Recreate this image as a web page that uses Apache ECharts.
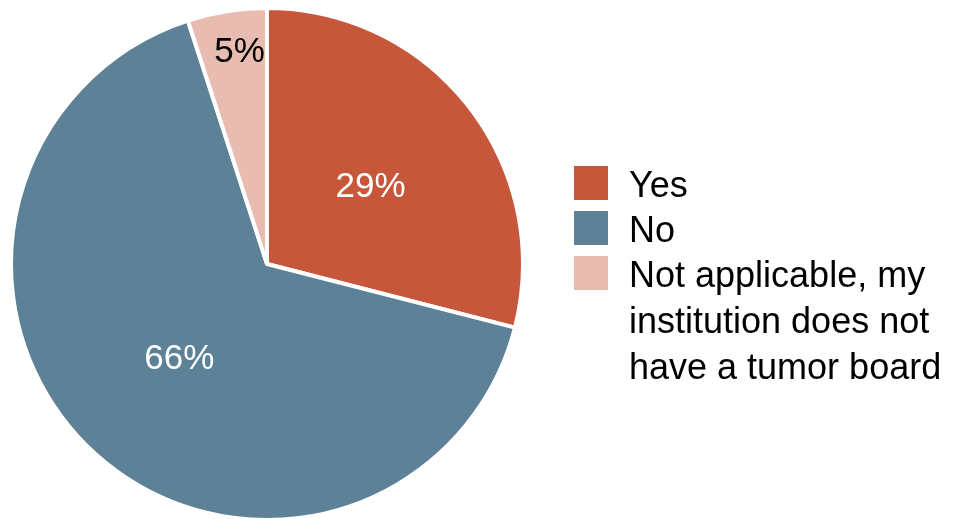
<!DOCTYPE html>
<html>
<head>
<meta charset="utf-8">
<script src="https://cdn.jsdelivr.net/npm/echarts@6/dist/echarts.min.js"></script>
<style>html,body{margin:0;padding:0;background:#fff;}#c{width:954px;height:519px;}</style>
</head>
<body>
<div id="c"></div>
<script>
const categories = ['Yes', 'No', 'Not applicable, my\ninstitution does not\nhave a tumor board'];
const values = [29, 66, 5];
const colors = ['#C7573B', '#5D8196', '#E9BCB1'];
const labelColors = ['#ffffff', '#ffffff', '#000000'];

const chart = echarts.init(document.getElementById('c'), null, {renderer: 'canvas'});
const font = "'Liberation Sans', Arial, sans-serif";
const legendCommon = {
  orient: 'vertical',
  left: 574,
  padding: 0,
  itemGap: -1,
  itemWidth: 34,
  itemHeight: 43,
  icon: 'path://M0,0 L34,0 L34,34 L0,34 Z M0,43 L34,43',
  selectedMode: false,
  itemStyle: {borderWidth: 0},
  textStyle: {fontSize: 36, lineHeight: 46, color: '#000', fontFamily: font, padding: [0, 0, 0, 16]}
};
chart.setOption({
  animation: false,
  color: colors,
  legend: [
    Object.assign({}, legendCommon, {top: 164.5, data: categories.slice(0, 2)}),
    Object.assign({}, legendCommon, {
      top: 254.5,
      itemHeight: 135,
      icon: 'path://M0,0 L34,0 L34,34 L0,34 Z M0,135 L34,135',
      data: categories.slice(2)
    })
  ],
  series: [{
    type: 'pie',
    center: [267, 264],
    radius: 256,
    startAngle: 90,
    clockwise: true,
    avoidLabelOverlap: false,
    itemStyle: {borderColor: '#fff', borderWidth: 4},
    label: {
      show: true,
      position: 'inside',
      formatter: '{c}%',
      fontSize: 35,
      fontFamily: font
    },
    labelLine: {show: false},
    emphasis: {disabled: true},
    labelLayout: function (p) {
      if (p.dataIndex === 0) return {dy: 4};
      if (p.dataIndex === 1) return {dx: 2};
      if (p.dataIndex === 2) return {dx: -7, dy: -82};
    },
    data: categories.map((n, i) => ({
      name: n,
      value: values[i],
      label: {color: labelColors[i]}
    }))
  }]
});
</script>
</body>
</html>
